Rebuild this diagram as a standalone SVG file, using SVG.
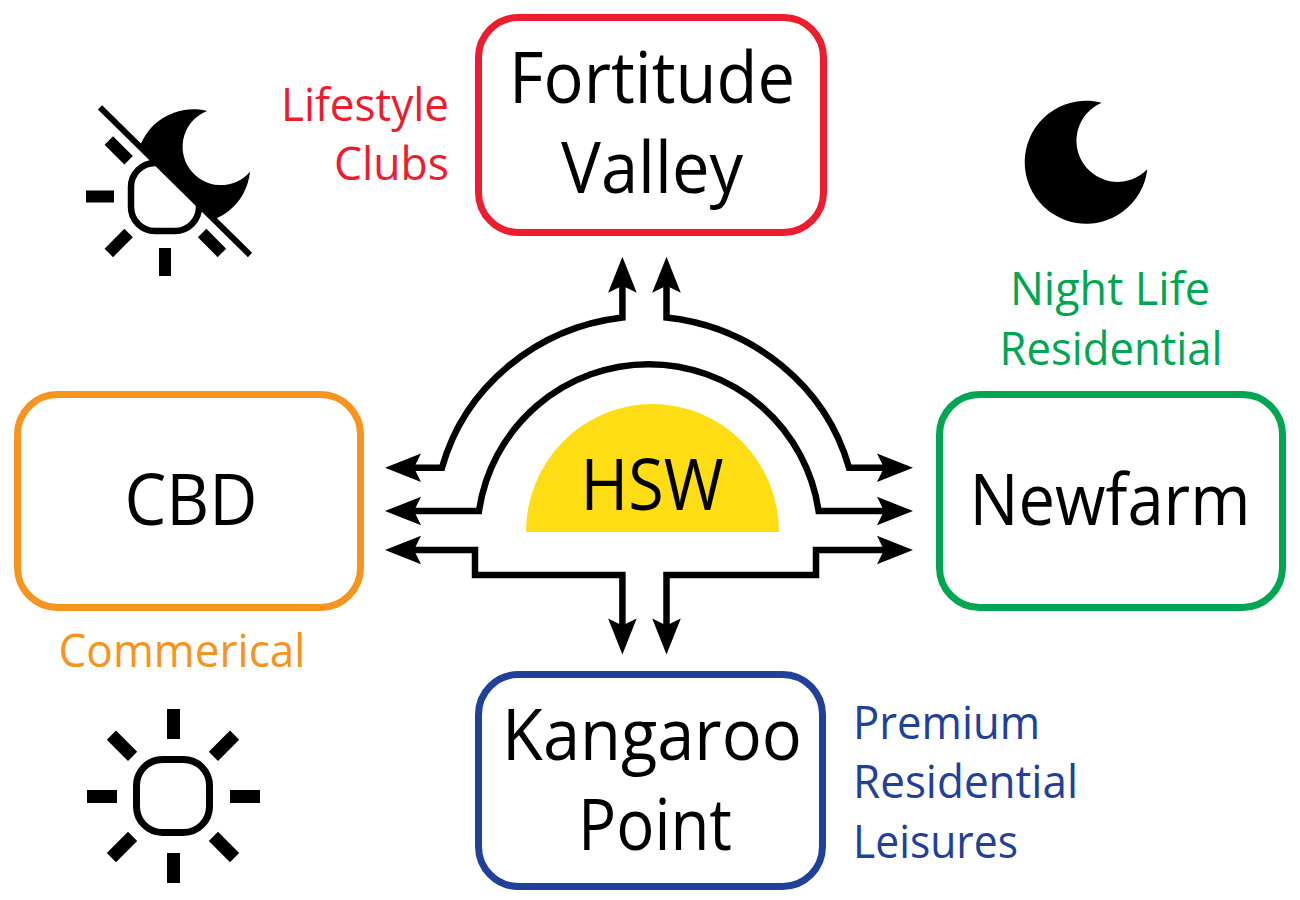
<svg xmlns="http://www.w3.org/2000/svg" width="1300" height="900" viewBox="0 0 1300 900">
<style>
text{font-family:"Open Sans","Noto Sans","Liberation Sans",sans-serif}
.box{fill:#fff;stroke-width:7}
.big{font-size:71px;fill:#000;text-anchor:middle}
.lab{font-size:45px}
.c{fill:none;stroke:#000;stroke-width:6.500;stroke-linejoin:miter;marker-end:url(#a);marker-start:url(#a)}
.ray{fill:#000}
</style>
<defs>
<marker id="a" markerUnits="userSpaceOnUse" markerWidth="36" markerHeight="29" refX="10" refY="14.3" orient="auto-start-reverse" overflow="visible"><path d="M36 14.3L0 0L7 14.3L0 28.6Z" fill="#000"/></marker>
<clipPath id="above"><path d="M100 107.3L250 255L320 255L320 40L100 40Z"/></clipPath>
<clipPath id="below"><path d="M100 107.3L250 255L250 300L60 300L60 107.3Z"/></clipPath>
</defs>
<rect width="1300" height="900" fill="#fff"/>
<g id="connectors">
<path class="c" d="M622.4 282.700V317.500A214 205 0 0 0 442 467.700H411"/>
<path class="c" d="M666.5 282.700V317.500A214 205 0 0 1 849 467.700H887"/>
<path class="c" d="M411 511H479A171.600 171.600 0 0 1 818.6 511H887"/>
<path class="c" d="M411 550H475V575H622.4V628.500"/>
<path class="c" d="M887 550H816V575H666.5V628.500"/>
</g>
<g id="hsw">
<path d="M526 532A126.5 128 0 0 1 779 532Z" fill="#ffdd15"/>
<text class="big" x="652" y="510" textLength="143" lengthAdjust="spacingAndGlyphs">HSW</text>
</g>
<g id="fortitude">
<rect class="box" x="478.500" y="17.500" width="345" height="215" rx="40" stroke="#ed1c2e"/>
<text class="big" x="652" y="103" textLength="286" lengthAdjust="spacingAndGlyphs">Fortitude</text>
<text class="big" x="652" y="193" textLength="182" lengthAdjust="spacingAndGlyphs">Valley</text>
</g>
<g id="cbd">
<rect class="box" x="17.500" y="394.500" width="343" height="213" rx="40" stroke="#f7941d"/>
<text class="big" x="191" y="525" textLength="133" lengthAdjust="spacingAndGlyphs">CBD</text>
</g>
<g id="newfarm">
<rect class="box" x="939.500" y="394.500" width="343" height="213" rx="40" stroke="#00a651"/>
<text class="big" x="1110" y="525" textLength="281" lengthAdjust="spacingAndGlyphs">Newfarm</text>
</g>
<g id="kangaroo">
<rect class="box" x="478.500" y="674.500" width="344" height="212" rx="40" stroke="#21409a"/>
<text class="big" x="652" y="760" textLength="300" lengthAdjust="spacingAndGlyphs">Kangaroo</text>
<text class="big" x="655" y="850" textLength="154" lengthAdjust="spacingAndGlyphs">Point</text>
</g>
<g id="labels">
<text class="lab" x="449" y="121" text-anchor="end" fill="#ed1c2e" textLength="168" lengthAdjust="spacingAndGlyphs">Lifestyle</text>
<text class="lab" x="449" y="180" text-anchor="end" fill="#ed1c2e" textLength="115" lengthAdjust="spacingAndGlyphs">Clubs</text>
<text class="lab" x="182" y="667" text-anchor="middle" fill="#f7941d" textLength="247" lengthAdjust="spacingAndGlyphs">Commerical</text>
<text class="lab" x="1110" y="305" text-anchor="middle" fill="#00a651" textLength="200" lengthAdjust="spacingAndGlyphs">Night Life</text>
<text class="lab" x="1111" y="365" text-anchor="middle" fill="#00a651" textLength="223" lengthAdjust="spacingAndGlyphs">Residential</text>
<text class="lab" x="853" y="739" fill="#21409a" textLength="187" lengthAdjust="spacingAndGlyphs">Premium</text>
<text class="lab" x="853" y="798" fill="#21409a" textLength="225" lengthAdjust="spacingAndGlyphs">Residential</text>
<text class="lab" x="853" y="858" fill="#21409a" textLength="165" lengthAdjust="spacingAndGlyphs">Leisures</text>
</g>
<g id="moon-right">
<path d="M1101.7 102.7A61.5 61.5 0 1 0 1147.3 169.3A41.2 41.2 0 1 1 1101.7 102.7Z" fill="#000"/>
</g>
<g id="moon-sun-crossed">
<path clip-path="url(#above)" d="M207.3 111A57 57 0 1 0 250 171.7A38.3 38.3 0 1 1 207.3 111Z" fill="#000"/>
<rect clip-path="url(#below)" x="131" y="163" width="68" height="68" rx="24" fill="none" stroke="#000" stroke-width="6.5"/>
<path d="M100 107.3L250 255" stroke="#000" stroke-width="6" fill="none"/>
<g class="ray">
<rect x="159" y="248" width="12" height="28"/>
<rect x="86" y="190.500" width="28" height="12"/>
<rect x="-14" y="-6" width="28" height="12" transform="translate(118.700 150.300) rotate(45)"/>
<rect x="-14" y="-6" width="28" height="12" transform="translate(118.700 243) rotate(-45)"/>
<rect x="-14" y="-6" width="28" height="12" transform="translate(212 243) rotate(45)"/>
</g>
</g>
<g id="sun">
<rect x="136.500" y="759.500" width="73" height="73" rx="26" fill="none" stroke="#000" stroke-width="7"/>
<g class="ray">
<rect x="167" y="709" width="13" height="30"/>
<rect x="167" y="853" width="13" height="30"/>
<rect x="87" y="790" width="30" height="13"/>
<rect x="230" y="790" width="30" height="13"/>
<rect x="-15" y="-6.500" width="30" height="13" transform="translate(122 745.700) rotate(45)"/>
<rect x="-15" y="-6.500" width="30" height="13" transform="translate(224 745.700) rotate(-45)"/>
<rect x="-15" y="-6.500" width="30" height="13" transform="translate(122 847) rotate(-45)"/>
<rect x="-15" y="-6.500" width="30" height="13" transform="translate(224 847) rotate(45)"/>
</g>
</g>
</svg>
